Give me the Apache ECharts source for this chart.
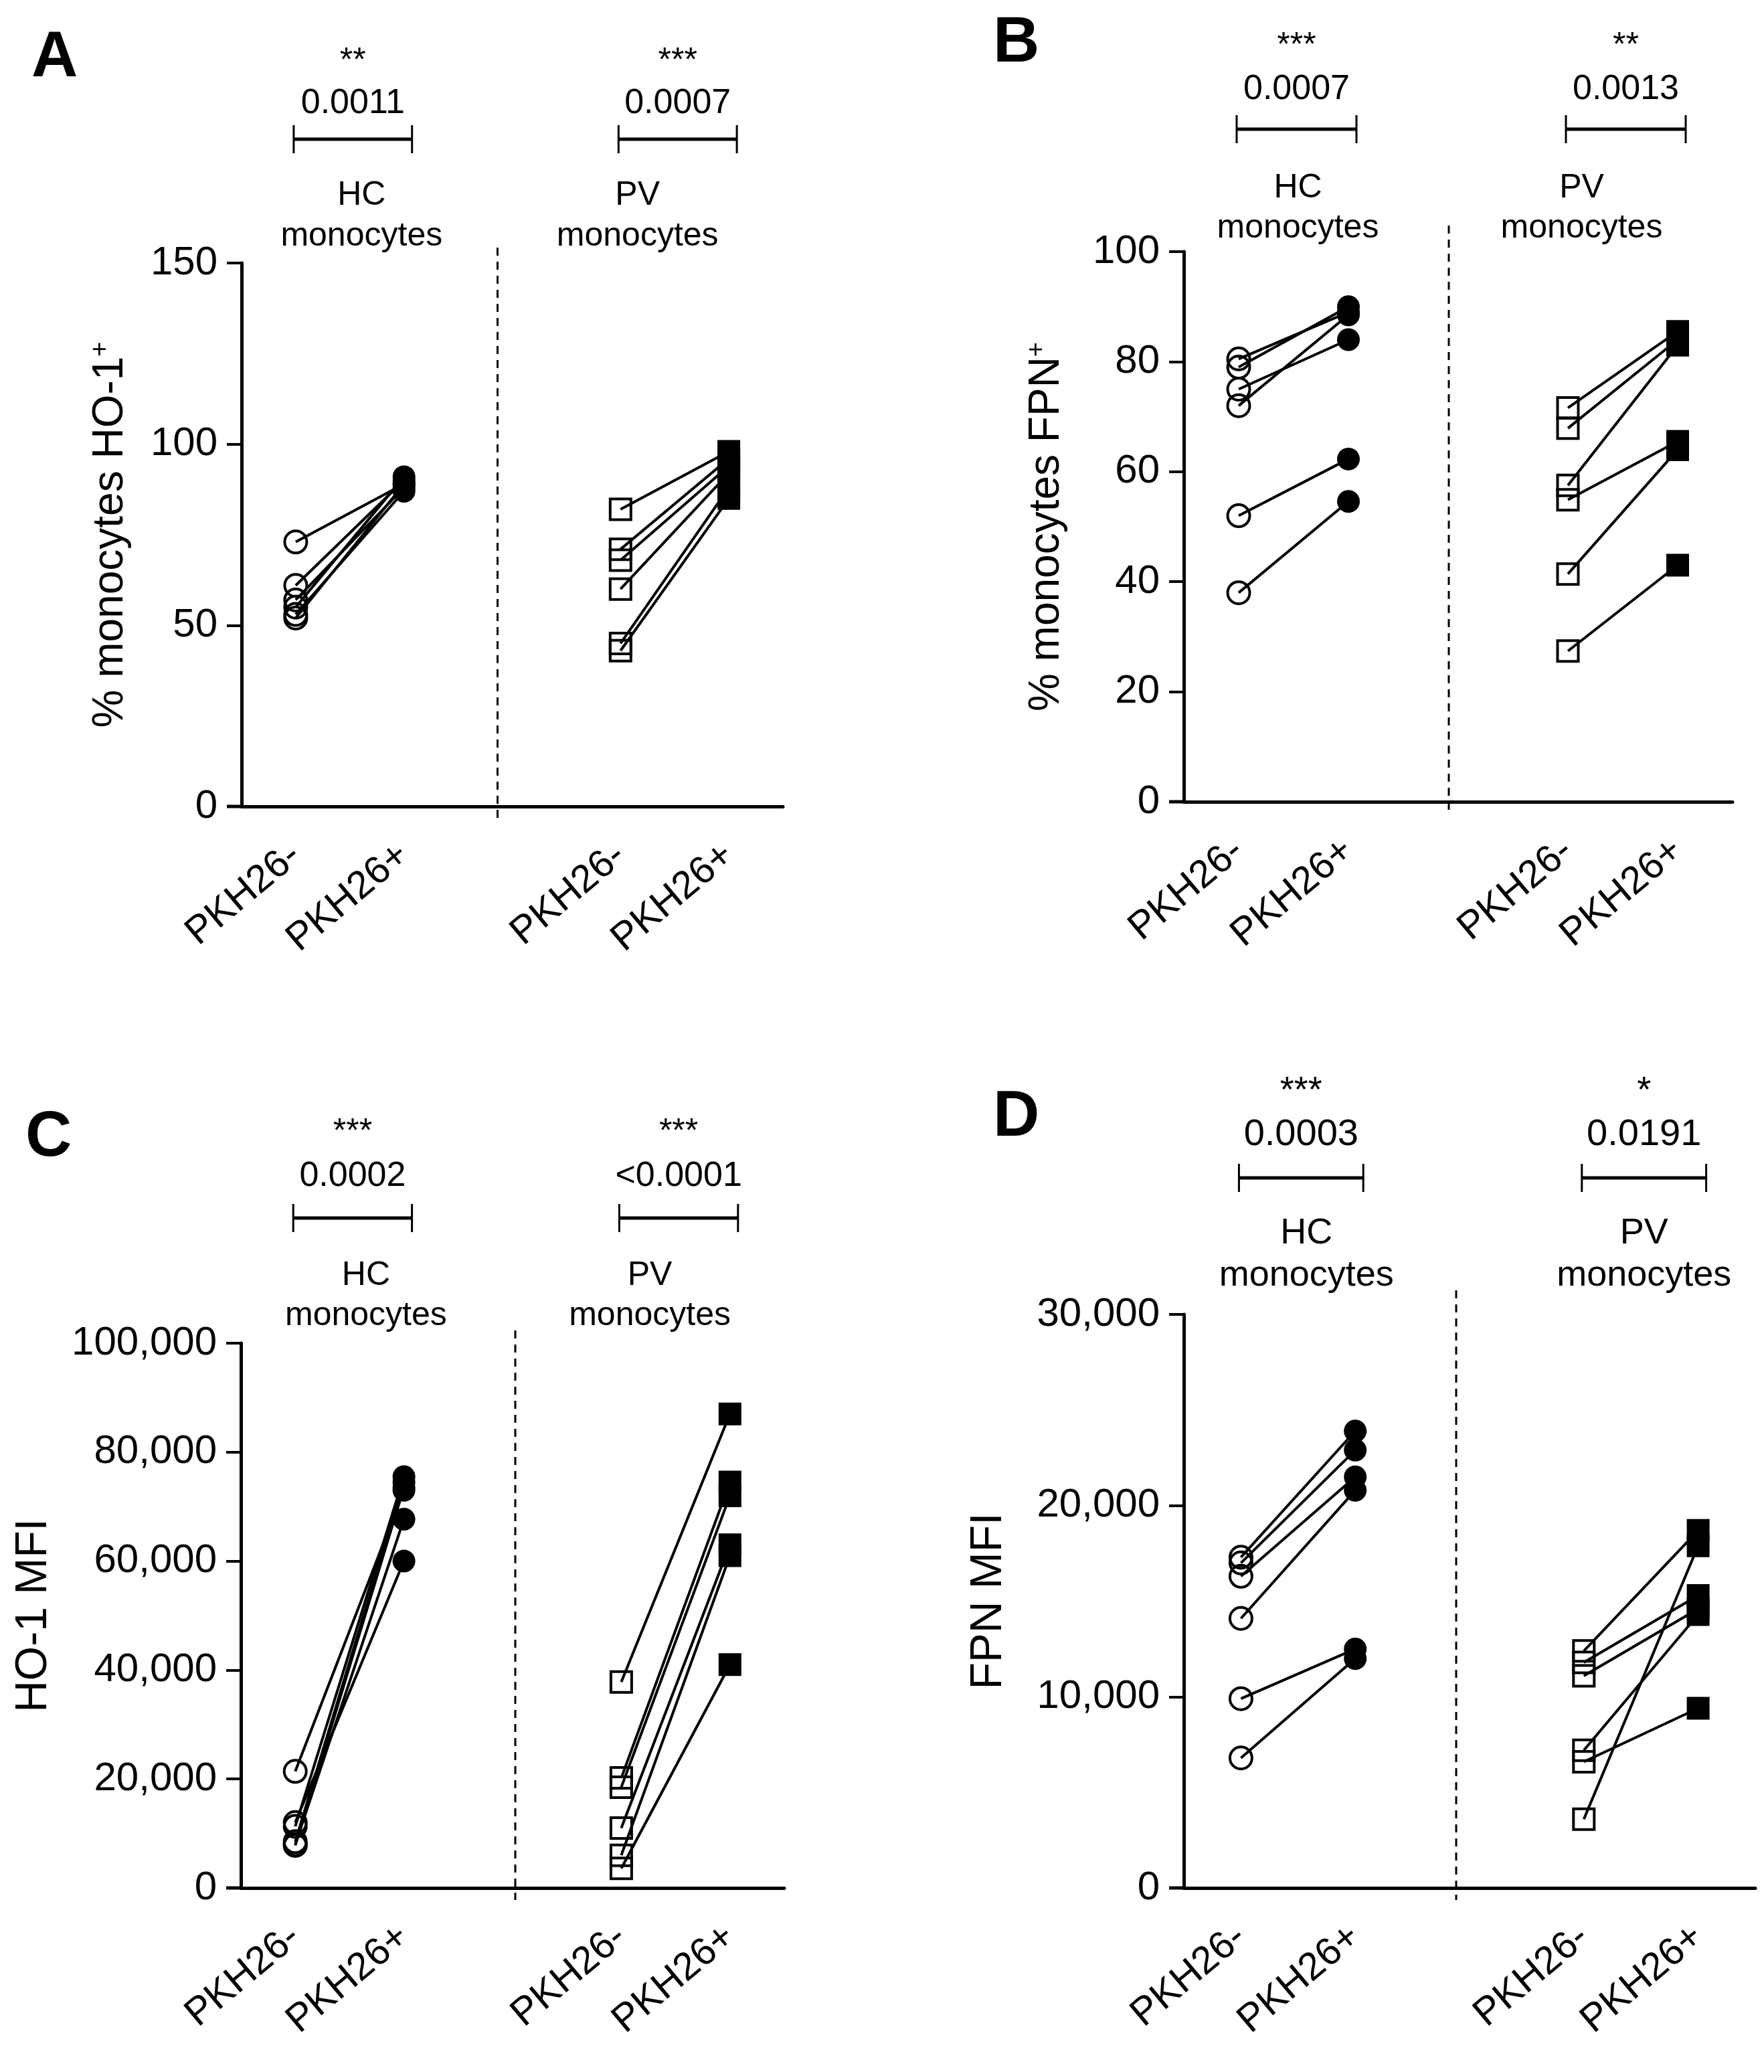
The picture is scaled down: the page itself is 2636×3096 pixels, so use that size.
<!DOCTYPE html>
<html><head><meta charset="utf-8">
<script src="https://cdn.jsdelivr.net/npm/echarts@6/dist/echarts.min.js"></script>
<style>html,body{margin:0;padding:0;background:#fff}#c{width:2636px;height:3096px}</style>
</head><body><div id="c"></div>
<script>
// ---------- data ----------
const categories = ['PKH26-', 'PKH26+', '', 'PKH26-', 'PKH26+'];

// Panel A: % monocytes HO-1+
const aHcNeg = [73, 61, 57, 55, 53, 52];
const aHcPos = [89, 90, 88, 91, 87, 89];
const aPvNeg = [82, 71, 68, 60, 45, 43];
const aPvPos = [98, 96, 94, 92, 88, 85];
const aYTicks = [0, 50, 100, 150];

// Panel B: % monocytes FPN+
const bHcNeg = [80.5, 79, 75, 72, 52, 38];
const bHcPos = [89, 90, 84, 88.5, 62.3, 54.6];
const bPvNeg = [71.6, 67.9, 57.5, 54.9, 41.4, 27.4];
const bPvPos = [85.5, 84, 83, 65.5, 64, 43];
const bYTicks = [0, 20, 40, 60, 80, 100];

// Panel C: HO-1 MFI
const cHcNeg = [21400, 12000, 11300, 8500, 8000, 7800];
const cHcPos = [73000, 60000, 75500, 74500, 67700, 73500];
const cPvNeg = [37800, 20200, 18500, 11000, 6000, 3600];
const cPvPos = [87000, 74500, 72000, 63000, 61000, 41000];
const cYTicks = [0, 20000, 40000, 60000, 80000, 100000];

// Panel D: FPN MFI
const dHcNeg = [17300, 17000, 16300, 14100, 9900, 6800];
const dHcPos = [23900, 22900, 21500, 20800, 12500, 12000];
const dPvNeg = [12400, 11800, 11100, 7200, 6600, 3600];
const dPvPos = [18700, 15300, 14600, 14300, 9400, 17900];
const dYTicks = [0, 10000, 20000, 30000];

// statistics annotations
const pLabels = [['0.0011', '0.0007'], ['0.0007', '0.0013'], ['0.0002', '<0.0001'], ['0.0003', '0.0191']];
const starLabels = [['**', '***'], ['***', '**'], ['***', '***'], ['***', '*']];
const groupLabels = [['HC', 'monocytes'], ['PV', 'monocytes']];
const panelLetters = ['A', 'B', 'C', 'D'];
const yNames = [['% monocytes HO-1', '+'], ['% monocytes FPN', '+'], ['HO-1 MFI', ''], ['FPN MFI', '']];

// ---------- layout ----------
const FONT = 'Liberation Sans, Arial, Helvetica, sans-serif';
const layout = [
  {grid: {left: 361, top: 393, width: 809, height: 812}, nameGap: 163, nameSize: 64, letter: [47, 40],
   stars: -313, p: -238, br: -185, l1: -101, l2: -40, hcDx: 13, pvDx: -60, fs: 50, dashUp: 23, dashDx: -22},
  {grid: {left: 1769, top: 376, width: 820, height: 822}, nameGap: 172, nameSize: 64, letter: [1484, 18],
   stars: -319, p: -242, br: -183, l1: -95, l2: -35, hcDx: 2, pvDx: -66, fs: 50, dashUp: 39, dashDx: -14},
  {grid: {left: 360, top: 2007, width: 812, height: 814}, nameGap: 276, nameSize: 66, letter: [38, 1653],
   stars: -327, p: -249, br: -187, l1: -101, l2: -41, hcDx: 20, pvDx: -43, fs: 50, dashUp: 19, dashDx: 4},
  {grid: {left: 1769, top: 1964, width: 854, height: 857}, nameGap: 258, nameSize: 66, letter: [1484, 1623],
   stars: -346, p: -268, br: -204, l1: -121, l2: -58, hcDx: 8, pvDx: 0, fs: 54, dashUp: 36, dashDx: -20}
];

const panelData = [
  [aHcNeg, aHcPos, aPvNeg, aPvPos, aYTicks],
  [bHcNeg, bHcPos, bPvNeg, bPvPos, bYTicks],
  [cHcNeg, cHcPos, cPvNeg, cPvPos, cYTicks],
  [dHcNeg, dHcPos, dPvNeg, dPvPos, dYTicks]
];

const fmt = v => Number(v).toLocaleString('en-US');

const grids = [], xAxes = [], yAxes = [], series = [];
panelData.forEach((pd, k) => {
  const [hcN, hcP, pvN, pvP, ticks] = pd;
  const L = layout[k];
  const yMax = ticks[ticks.length - 1];
  const yInt = ticks[1] - ticks[0];
  grids.push(Object.assign({containLabel: false}, L.grid));
  xAxes.push({
    type: 'category', gridIndex: k, data: categories, boundaryGap: true,
    axisLine: {lineStyle: {color: '#000', width: 5}},
    axisTick: {alignWithLabel: true, length: 24, lineStyle: {width: 4, color: '#000'},
               interval: (i, v) => v !== ''},
    axisLabel: {interval: 0, rotate: 40, fontSize: 58, color: '#000', fontFamily: FONT, margin: 66}
  });
  const nm = yNames[k];
  yAxes.push({
    type: 'value', gridIndex: k, min: 0, max: yMax, interval: yInt,
    name: nm[1] ? nm[0] + '{sup|' + nm[1] + '}' : nm[0],
    nameLocation: 'middle', nameGap: L.nameGap, nameRotate: 90,
    nameTextStyle: {fontSize: L.nameSize, color: '#000', fontFamily: FONT,
      rich: {sup: {fontSize: Math.round(L.nameSize * 0.6), verticalAlign: 'top', color: '#000', fontFamily: FONT, padding: [0, 0, 28, 0]}}},
    splitLine: {show: false},
    axisLine: {show: true, lineStyle: {color: '#000', width: 5}},
    axisTick: {show: true, length: 22, lineStyle: {width: 4, color: '#000'}},
    axisLabel: {fontSize: 60, color: '#000', fontFamily: FONT, margin: 36, formatter: fmt}
  });
  // paired lines (one line per subject)
  const addPairs = (neg, pos, i0, i1) => {
    neg.forEach((v, i) => {
      series.push({
        type: 'line', xAxisIndex: k, yAxisIndex: k, symbol: 'none', silent: true, z: 2,
        lineStyle: {color: '#000', width: 4}, data: [[i0, v], [i1, pos[i]]], animation: false
      });
    });
  };
  addPairs(hcN, hcP, 0, 1);
  addPairs(pvN, pvP, 3, 4);
  // markers
  const sc = (vals, idx, symbol, filled, size) => series.push({
    type: 'scatter', xAxisIndex: k, yAxisIndex: k, symbol: symbol, symbolSize: size, z: 5, animation: false,
    itemStyle: filled ? {color: '#000', borderColor: '#000', borderWidth: 0, opacity: 1}
                      : {color: 'rgba(0,0,0,0)', borderColor: '#000', borderWidth: 4, opacity: 1},
    emphasis: {disabled: true},
    data: vals.map(v => [idx, v])
  });
  sc(hcN, 0, 'circle', false, 33);
  sc(hcP, 1, 'circle', true, 34);
  sc(pvN, 3, 'rect', false, 31);
  sc(pvP, 4, 'rect', true, 34);
});

const chart = echarts.init(document.getElementById('c'), null, {renderer: 'canvas'});
chart.setOption({
  backgroundColor: '#fff', animation: false,
  grid: grids, xAxis: xAxes, yAxis: yAxes, series: series
});

// ---------- annotations (positions derived from the axes) ----------
const g = [];
panelData.forEach((pd, k) => {
  const L = layout[k];
  const yMax = pd[4][pd[4].length - 1];
  const pt = (i, v) => chart.convertToPixel({xAxisIndex: k, yAxisIndex: k}, [i, v]);
  const [x0, top] = pt(0, yMax), [x1] = pt(1, yMax), [x3] = pt(3, yMax), [x4] = pt(4, yMax);
  const [xSep, bottom] = pt(2, 0);
  const txt = (x, y, s, fs, bold) => g.push({type: 'text', x: x, y: y, silent: true,
    style: {text: s, fontSize: fs, fontFamily: FONT, fontWeight: bold ? 'bold' : 'normal', fill: '#000',
            textAlign: 'center', textVerticalAlign: 'middle'}});
  const line = (xa, ya, xb, yb, w, dash) => g.push({type: 'line', silent: true,
    shape: {x1: xa, y1: ya, x2: xb, y2: yb}, style: {stroke: '#000', lineWidth: w, lineDash: dash || null}});
  // dashed separator between HC and PV groups
  line(xSep + L.dashDx, top - L.dashUp, xSep + L.dashDx, bottom + 18, 3, [12, 9]);
  // x axis line continues left to the end of the y-axis ticks
  line(L.grid.left - 22, bottom, L.grid.left, bottom, 5);
  [[x0, x1, L.hcDx, 0], [x3, x4, L.pvDx, 1]].forEach(([xa0, xb0, dx, j]) => {
    const xa = xa0 - 3, xb = xb0 + 12;
    const cx = (xa + xb) / 2;
    txt(cx, top + L.stars + L.fs * 0.24, starLabels[k][j], L.fs, false);
    txt(cx, top + L.p, pLabels[k][j], L.fs + 2, false);
    const by = top + L.br;
    line(xa, by, xb, by, 5);
    line(xa, by - 21, xa, by + 21, 3);
    line(xb, by - 21, xb, by + 21, 3);
    txt(cx + dx, top + L.l1, groupLabels[j][0], L.fs, false);
    txt(cx + dx, top + L.l2, groupLabels[j][1], L.fs, false);
  });
  g.push({type: 'text', x: L.letter[0], y: L.letter[1], silent: true,
    style: {text: panelLetters[k], fontSize: 96, fontWeight: 'bold', fontFamily: FONT, fill: '#000',
            textAlign: 'left', textVerticalAlign: 'top'}});
});
chart.setOption({graphic: g});
</script>
</body></html>
